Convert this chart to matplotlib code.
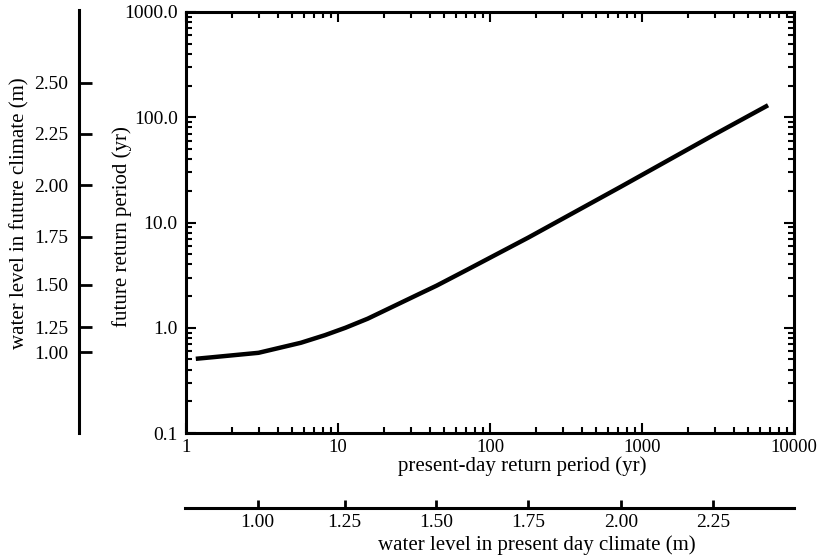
import numpy as np
import matplotlib
matplotlib.use("Agg")
import matplotlib.pyplot as plt
from matplotlib.ticker import FixedLocator, NullFormatter, FuncFormatter

# curve: present-day vs future return period (yr)
present_T = [1.16, 1.5, 3.0, 5.7, 8.2, 11.2, 15.7, 33.4, 44.5, 71.1, 179, 731, 2939, 6750]
future_T = [0.507, 0.525, 0.578, 0.72, 0.85, 1.0, 1.22, 2.06, 2.51, 3.57, 7.2, 22.0, 67.5, 130]

# water level scales (m) and the return periods they sit at
future_levels = ["1.00", "1.25", "1.50", "1.75", "2.00", "2.25", "2.50"]
future_level_T = [0.578, 1.0, 2.51, 7.2, 22.0, 67.5, 206]
present_levels = ["1.00", "1.25", "1.50", "1.75", "2.00", "2.25"]
present_level_T = [3.0, 11.2, 44.5, 179, 731, 2939]

plt.rcParams["font.family"] = ["Liberation Serif", "DejaVu Serif"]
plt.rcParams["font.size"] = 15
plt.rcParams["xtick.labelsize"] = 13.5
plt.rcParams["ytick.labelsize"] = 14

W, H = 817, 559
fig = plt.figure(figsize=(W / 100, H / 100), dpi=100)

def box(x0, y0, x1, y1):
    # pixel box (top-left origin) -> figure fraction
    return [x0 / W, 1 - y1 / H, (x1 - x0) / W, (y1 - y0) / H]

lw_spine = 2.2

ax = fig.add_axes(box(186, 12, 794, 433))
ax.plot(present_T, future_T, color="black", lw=3.2, solid_capstyle="butt")
ax.set_xscale("log")
ax.set_yscale("log")
ax.set_xlim(1, 10000)
ax.set_ylim(0.1, 1000)
ax.xaxis.set_major_formatter(FuncFormatter(lambda v, p: f"{v:.0f}"))
ax.yaxis.set_major_formatter(FuncFormatter(lambda v, p: f"{v:.1f}"))
ax.xaxis.set_minor_formatter(NullFormatter())
ax.yaxis.set_minor_formatter(NullFormatter())
ax.tick_params(which="both", direction="in", top=True, right=True, width=1.5, colors="black")
ax.tick_params(which="major", length=7.5)
ax.tick_params(which="minor", length=4)
ax.tick_params(axis="x", pad=4)
ax.tick_params(axis="y", pad=6)
for s in ax.spines.values():
    s.set_linewidth(lw_spine)

# left scale: water level in future climate
axl = fig.add_axes(box(79, 10, 80, 433))
axl.set_yscale("log")
axl.set_ylim(0.1, 1000)
axl.patch.set_visible(False)
for k in ["top", "right", "bottom"]:
    axl.spines[k].set_visible(False)
axl.spines["left"].set_linewidth(lw_spine)
axl.set_xticks([])
axl.yaxis.set_major_locator(FixedLocator(future_level_T))
axl.yaxis.set_minor_locator(FixedLocator([]))
axl.set_yticklabels(future_levels)
axl.tick_params(axis="y", direction="in", length=9, width=2, pad=8)

# bottom scale: water level in present day climate
axb = fig.add_axes(box(185, 500, 794, 508))
axb.set_xscale("log")
axb.set_xlim(1, 10000)
axb.patch.set_visible(False)
for k in ["top", "right", "left"]:
    axb.spines[k].set_visible(False)
axb.spines["bottom"].set_linewidth(lw_spine)
axb.set_yticks([])
axb.xaxis.set_major_locator(FixedLocator(present_level_T))
axb.xaxis.set_minor_locator(FixedLocator([]))
axb.set_xticklabels(present_levels, fontsize=14)
axb.tick_params(axis="x", direction="in", length=6, width=2, pad=4)

fig.text(20 / W, 1 - 213 / H, "water level in future climate (m)", rotation=90, ha="center", va="center")
fig.text(122 / W, 1 - 227 / H, "future return period (yr)", rotation=90, ha="center", va="center")
fig.text(522 / W, 1 - 466 / H, "present-day return period (yr)", ha="center", va="center")
fig.text(537 / W, 1 - 545 / H, "water level in present day climate (m)", ha="center", va="center")

fig.savefig("out.png", dpi=100)
